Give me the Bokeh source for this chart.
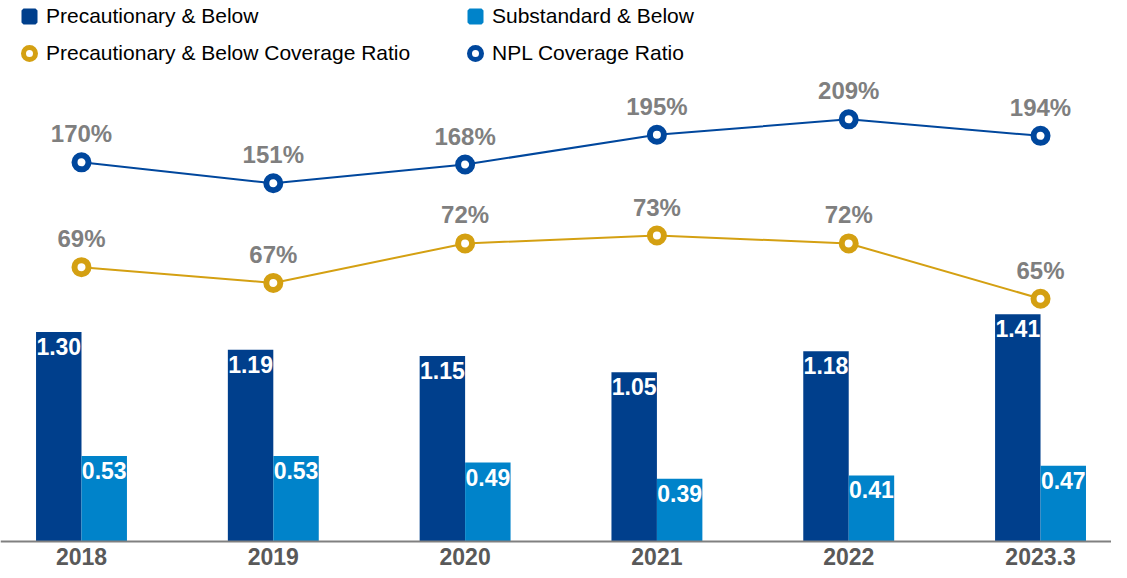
from bokeh.plotting import figure
from bokeh.models import ColumnDataSource, Range1d, LabelSet, Legend, LegendItem, Span
from bokeh.core.properties import value
from bokeh.embed import file_html
from bokeh.resources import INLINE

# ---- data ----
years = ["2018", "2019", "2020", "2021", "2022", "2023.3"]
precautionary_below = [1.30, 1.19, 1.15, 1.05, 1.18, 1.41]
substandard_below = [0.53, 0.53, 0.49, 0.39, 0.41, 0.47]
prec_coverage = [69, 67, 72, 73, 72, 65]
npl_coverage = [170, 151, 168, 195, 209, 194]

DARK = "#003F8C"
LIGHT = "#0083CA"
GOLD = "#D4A012"
LINE_BLUE = "#00479D"
FONT = value("Liberation Sans")

bw = 0.237
xs = list(range(len(years)))
src = ColumnDataSource(dict(
    x=xs,
    x_dark=[i - bw / 2 for i in xs],
    x_light=[i + bw / 2 for i in xs],
    base=[0] * len(xs),
    year=years,
    prec=precautionary_below,
    sub=substandard_below,
    pc=prec_coverage,
    npl=npl_coverage,
    prec_lbl=[f"{v:.2f}" for v in precautionary_below],
    sub_lbl=[f"{v:.2f}" for v in substandard_below],
    pc_lbl=[f"{v}%" for v in prec_coverage],
    npl_lbl=[f"{v}%" for v in npl_coverage],
))

p = figure(width=1111, height=570,
           x_range=Range1d(-0.4223, 5.370), y_range=Range1d(-0.1799, 3.356),
           output_backend="svg", toolbar_location=None,
           x_axis_location=None, y_axis_location=None,
           min_border_left=0, min_border_right=0, min_border_top=0, min_border_bottom=0)
p.extra_y_ranges = {"npl": Range1d(-200.0, 316.7), "pc": Range1d(30.60, 102.75)}
p.outline_line_color = None
p.xgrid.visible = False
p.ygrid.visible = False
p.background_fill_color = "white"
p.border_fill_color = "white"

# bars
p.vbar(x="x_dark", top="prec", width=bw, source=src, fill_color=DARK, line_color=None)
p.vbar(x="x_light", top="sub", width=bw, source=src, fill_color=LIGHT, line_color=None)

# baseline (category axis line) and category labels
p.add_layout(Span(location=0, dimension="width", line_color="#808080", line_width=2))
p.add_layout(LabelSet(x="x", y="base", text="year", source=src, text_align="center",
                      text_baseline="alphabetic", text_font=FONT, text_font_size="23px",
                      text_font_style="bold", text_color="#595959", y_offset=-24))

bar_lbl_kw = dict(text_align="center", text_baseline="alphabetic", text_font=FONT,
                  text_font_size="23px", text_font_style="bold", text_color="white", y_offset=-23)
p.add_layout(LabelSet(x="x_dark", y="prec", text="prec_lbl", source=src, **bar_lbl_kw))
p.add_layout(LabelSet(x="x_light", y="sub", text="sub_lbl", source=src, **bar_lbl_kw))

# lines
p.line("x", "npl", source=src, y_range_name="npl", line_color=LINE_BLUE, line_width=2)
p.scatter("x", "npl", source=src, y_range_name="npl", size=14, fill_color="white",
          line_color=LINE_BLUE, line_width=6)
p.line("x", "pc", source=src, y_range_name="pc", line_color=GOLD, line_width=2)
p.scatter("x", "pc", source=src, y_range_name="pc", size=14, fill_color="white",
          line_color=GOLD, line_width=6)

pct_kw = dict(text_align="center", text_baseline="alphabetic", text_font=FONT,
              text_font_size="24px", text_font_style="bold", text_color="#7F7F7F", y_offset=20)
p.add_layout(LabelSet(x="x", y="npl", text="npl_lbl", source=src, y_range_name="npl", **pct_kw))
p.add_layout(LabelSet(x="x", y="pc", text="pc_lbl", source=src, y_range_name="pc", **pct_kw))

# legend proxies (not visible in the plot area)
nan = float("nan")
lg_sq_dark = p.scatter(x=[nan], y=[nan], marker="square", size=10, fill_color=DARK, line_color=DARK, line_width=4)
lg_sq_light = p.scatter(x=[nan], y=[nan], marker="square", size=10, fill_color=LIGHT, line_color=LIGHT, line_width=4)
lg_c_gold = p.scatter(x=[nan], y=[nan], marker="circle", size=10, fill_color="white", line_color=GOLD, line_width=5)
lg_c_blue = p.scatter(x=[nan], y=[nan], marker="circle", size=10, fill_color="white", line_color=LINE_BLUE, line_width=5)

leg_kw = dict(margin=0, padding=0, spacing=7, glyph_width=30, glyph_height=30,
              label_standoff=2, label_text_font="Liberation Sans", label_text_font_size="21px",
              label_text_color="#000000", border_line_color=None, background_fill_alpha=0)
leg1 = Legend(items=[LegendItem(label="Precautionary & Below", renderers=[lg_sq_dark]),
                     LegendItem(label="Precautionary & Below Coverage Ratio", renderers=[lg_c_gold])],
              location=(14, 502), **leg_kw)
leg2 = Legend(items=[LegendItem(label="Substandard & Below", renderers=[lg_sq_light]),
                     LegendItem(label="NPL Coverage Ratio", renderers=[lg_c_blue])],
              location=(460, 502), **leg_kw)
p.add_layout(leg1, "center")
p.add_layout(leg2, "center")

open("out.html", "w").write(file_html(p, INLINE))
